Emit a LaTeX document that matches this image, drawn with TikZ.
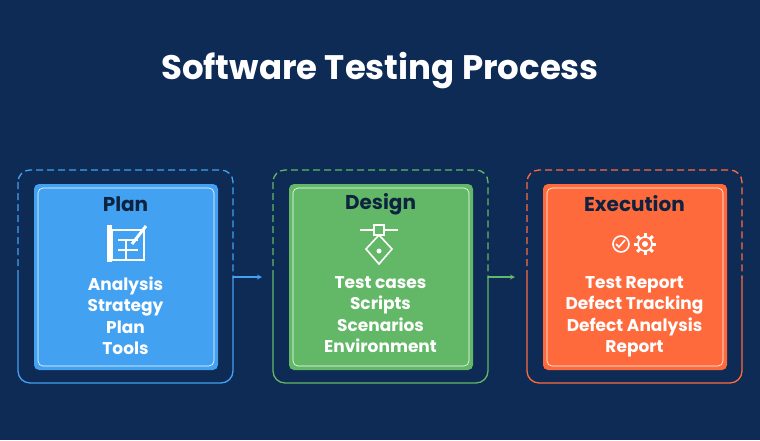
\documentclass[tikz,border=0pt]{standalone}
\usepackage{fontspec}
\setmainfont{Poppins}
\definecolor{bgnavy}{HTML}{0E2B55}
\definecolor{planblue}{HTML}{42A1F0}
\definecolor{designgreen}{HTML}{62B866}
\definecolor{execorange}{HTML}{FF6A3D}
\definecolor{titledark}{HTML}{0E2340}
\tikzset{
  outerbox/.style={rounded corners=12pt, line width=1.3pt},
  innerbox/.style={rounded corners=5pt},
  heading/.style={font=\bfseries\fontsize{20}{22}\selectfont, text=titledark},
  items/.style={font=\bfseries\fontsize{17}{21.5}\selectfont, text=white, align=center},
  flow/.style={-stealth, line width=1.2pt}
}
% one stage: left x of outer box, colour, name, heading, items
\newcommand{\stagebox}[5]{
  \begin{scope}
    \clip (#1-5,160) rectangle (#1+230,277);
    \draw[outerbox, #2, dashed, dash pattern=on 7pt off 4pt] (#1,170) rectangle (#1+215,383);
  \end{scope}
  \begin{scope}
    \clip (#1-5,277) rectangle (#1+230,395);
    \draw[outerbox, #2] (#1,170) rectangle (#1+215,383);
  \end{scope}
  \fill[innerbox, #2] (#1+16,184) rectangle (#1+200,370);
  \draw[innerbox, white, line width=0.6pt] (#1+20,188) rectangle (#1+196,366);
  \node[heading] (#3) at (#1+107.5,204) {#4};
  \node[items, anchor=north] (#3text) at (#1+107.5,273) {#5};
  \coordinate (#3in) at (#1,277);
  \coordinate (#3out) at (#1+215,277);
}
\begin{document}
\begin{tikzpicture}[x=1pt, y=-1pt]
\fill[bgnavy] (0,0) rectangle (760,440);
\useasboundingbox (0,0) rectangle (760,440);
\node[font=\bfseries\fontsize{34}{36}\selectfont, text=white] (title) at (380,71) {Software Testing Process};

\stagebox{18}{planblue}{plan}{Plan}{Analysis\\Strategy\\Plan\\Tools}
\stagebox{273}{designgreen}{design}{Design}{Test cases\\Scripts\\Scenarios\\Environment}
\stagebox{527}{execorange}{exec}{Execution}{Test Report\\Defect Tracking\\Defect Analysis\\Report}

\draw[flow, planblue] (planout) -- ++(29,0);
\draw[flow, designgreen] (designout) -- ++(27,0);

% icons
\begin{scope}[white, line width=1.6pt]
  % plan sheet
  \fill (107,225) rectangle (112,262);
  \draw (112,230) rectangle (144,260);
  \draw (118,240) -- (138,240) (126,240) -- (126,260) (118,250) -- (138,250);
  \draw[line width=3pt] (132,244) -- (146,226);
  % design pen tool
  \draw (374,230) -- (360,230) (384,230) -- (398,230);
  \draw (374,225) rectangle (384,235);
  \draw (379,235) -- (366,249) -- (379,264) -- (392,249) -- cycle;
  \fill (379,251) circle (2.5pt);
  % execution gears
  \draw (621,244) circle (8pt);
  \draw (616,244) -- (619,247) -- (625,240);
  \draw (645,244) circle (7pt);
  \fill (645,244) circle (3pt);
  \foreach \a in {0,45,...,315}
    \draw[line width=3pt] (645,244) ++(\a:7pt) -- ++(\a:4pt);
\end{scope}
\end{tikzpicture}
\end{document}
